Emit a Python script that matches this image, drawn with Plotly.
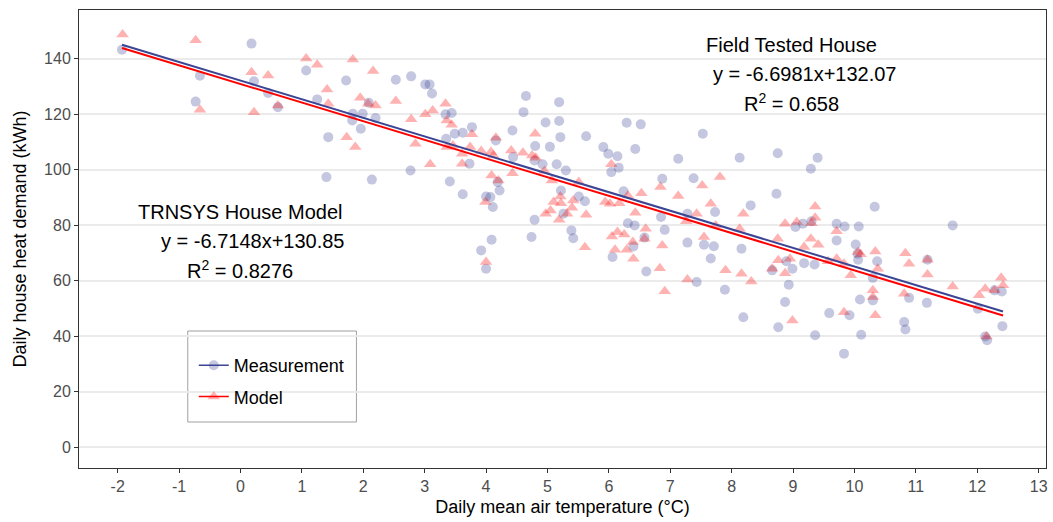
import plotly.graph_objects as go

# Measurement (field tested house)
meas_x = [-1.93, -0.73, -0.66, 0.18, 0.22, 0.45, 0.61, 1.07, 1.25, 1.40, 1.43, 1.72, 1.82, 1.83, 1.96, 1.99,
          2.09, 2.14, 2.20, 2.53, 2.77, 2.78, 3.01, 3.08, 3.12, 3.34, 3.35, 3.41, 3.44, 3.49, 3.62, 3.62,
          3.73, 3.77, 3.92, 4.00, 4.00, 4.07, 4.09, 4.11, 4.16, 4.19, 4.22, 4.43, 4.44, 4.61, 4.65, 4.74,
          4.79, 4.79, 4.80, 4.92, 4.97, 5.04, 5.15, 5.19, 5.19, 5.21, 5.22, 5.26, 5.30, 5.39, 5.42, 5.51,
          5.61, 5.63, 5.91, 5.99, 6.04, 6.06, 6.14, 6.16, 6.24, 6.29, 6.31, 6.40, 6.42, 6.43, 6.52, 6.58,
          6.61, 6.85, 6.87, 6.91, 7.13, 7.28, 7.28, 7.38, 7.43, 7.53, 7.55, 7.66, 7.71, 7.73, 7.89, 8.13,
          8.16, 8.19, 8.31, 8.66, 8.73, 8.75, 8.76, 8.87, 8.89, 8.93, 8.99, 9.04, 9.16, 9.18, 9.29, 9.30,
          9.35, 9.36, 9.40, 9.59, 9.71, 9.71, 9.83, 9.84, 9.92, 10.02, 10.05, 10.06, 10.07, 10.09, 10.11,
          10.30, 10.30, 10.33, 10.37, 10.81, 10.83, 10.89, 11.18, 11.19, 11.60, 12.01, 12.13, 12.16, 12.28,
          12.40, 12.41]
meas_y = [143.2, 124.5, 133.8, 145.4, 131.8, 127.6, 122.5, 135.7, 125.3, 97.3, 111.7, 132.1, 117.7, 120.1, 114.7, 120.1,
          124.1, 96.4, 118.6, 132.4, 99.7, 133.6, 130.7, 130.7, 127.4, 119.9, 111.1, 95.7, 120.4, 112.9, 113.3, 91.1,
          102.1, 115.3, 70.9, 90.3, 64.3, 90.1, 74.7, 86.5, 110.5, 95.5, 92.5, 114.1, 104.5, 120.7, 126.5, 75.7,
          103.3, 81.9, 108.5, 101.9, 117.0, 108.2, 101.9, 124.3, 117.5, 111.7, 92.5, 84.1, 99.7, 78.1, 75.3, 90.3,
          88.6, 112.0, 108.1, 105.7, 99.1, 68.5, 104.8, 100.7, 92.2, 116.9, 80.7, 72.3, 79.9, 107.4, 116.3, 75.5,
          63.3, 82.9, 96.7, 78.3, 103.9, 84.1, 73.7, 96.9, 59.5, 112.9, 72.9, 68.0, 72.4, 84.7, 56.7, 104.3,
          71.5, 46.8, 87.1, 63.7, 91.3, 105.9, 43.2, 52.3, 67.0, 58.5, 64.3, 79.3, 80.5, 66.3, 100.3, 81.4,
          65.8, 40.3, 104.3, 48.3, 80.5, 74.5, 33.7, 79.5, 47.5, 73.0, 69.7, 67.5, 79.5, 53.2, 40.5,
          61.0, 52.9, 86.6, 67.0, 45.1, 42.4, 53.8, 52.0, 67.5, 79.9, 49.9, 39.9, 38.5, 56.5,
          56.1, 43.6]

# Model (TRNSYS house model)
model_x = [-1.92, -0.73, -0.66, 0.18, 0.22, 0.45, 0.61, 1.07, 1.25, 1.41, 1.43, 1.73, 1.83, 1.87, 1.95, 2.08,
           2.16, 2.20, 2.53, 2.78, 2.85, 3.01, 3.09, 3.13, 3.34, 3.36, 3.36, 3.44, 3.46, 3.61, 3.61, 3.74,
           3.77, 3.92, 3.99, 4.00, 4.08, 4.09, 4.12, 4.16, 4.20, 4.41, 4.43, 4.60, 4.75, 4.80, 4.81, 4.95,
           4.97, 5.05, 5.07, 5.10, 5.19, 5.21, 5.22, 5.32, 5.40, 5.42, 5.51, 5.61, 5.63, 5.94, 6.02, 6.04,
           6.05, 6.10, 6.14, 6.17, 6.25, 6.29, 6.31, 6.39, 6.40, 6.43, 6.53, 6.58, 6.60, 6.83, 6.84, 6.87,
           6.91, 7.13, 7.26, 7.28, 7.43, 7.52, 7.55, 7.66, 7.74, 7.81, 7.90, 8.13, 8.16, 8.19, 8.32, 8.66,
           8.75, 8.76, 8.87, 8.87, 8.95, 8.99, 9.06, 9.18, 9.29, 9.30, 9.36, 9.36, 9.41, 9.57, 9.71, 9.71,
           9.83, 9.83, 9.94, 10.06, 10.10, 10.30, 10.30, 10.34, 10.34, 10.38, 10.81, 10.83, 10.89, 11.19,
           11.19, 11.60, 12.03, 12.13, 12.15, 12.28, 12.39, 12.42]
model_y = [148.7, 146.6, 121.6, 135.1, 120.7, 133.9, 123.1, 140.0, 137.8, 128.9, 123.7, 111.7, 139.7, 108.1, 125.9, 123.7,
           135.5, 123.1, 124.7, 118.1, 109.3, 119.9, 101.9, 121.3, 123.7, 117.7, 108.1, 116.2, 108.7, 105.7, 102.1, 108.1,
           112.7, 106.7, 88.3, 66.7, 106.3, 97.9, 105.1, 111.5, 96.1, 106.9, 98.7, 106.1, 105.1, 112.9, 104.3, 99.5,
           84.1, 85.3, 96.1, 88.3, 81.9, 90.3, 87.9, 84.1, 86.3, 88.9, 95.5, 72.0, 83.7, 88.3, 87.7, 101.9,
           75.9, 71.1, 77.5, 87.9, 76.6, 71.1, 90.7, 73.9, 67.9, 84.5, 91.5, 75.1, 78.7, 64.5, 93.7, 72.7,
           56.2, 90.5, 81.4, 60.4, 84.1, 94.3, 75.7, 87.7, 79.9, 97.3, 63.7, 78.7, 62.5, 84.1, 59.7, 64.3,
           75.1, 67.3, 80.5, 62.7, 67.9, 45.6, 81.1, 72.1, 75.1, 80.7, 86.7, 82.7, 72.9, 67.0, 77.8, 67.9,
           66.1, 48.6, 61.9, 70.3, 69.5, 56.5, 54.1, 70.5, 47.5, 64.3, 55.3, 69.9, 66.1, 67.5,
           62.2, 57.9, 54.7, 57.1, 39.9, 56.5, 61.0, 58.3]

# Regression fits (as annotated on the chart)
meas_fit = (-6.6981, 132.07)
model_fit = (-6.7148, 130.85)
x_ticks = list(range(-2, 14))
y_ticks = list(range(0, 141, 20))

FONT = "Liberation Sans, Arial, sans-serif"
BLUE = "#3B4594"
RED = "#FF0000"
BLUE_PT = "rgba(59,69,148,0.30)"
RED_PT = "rgba(255,0,0,0.30)"

xmin = min(min(meas_x), min(model_x))
xmax = max(max(meas_x), max(model_x))
line_x = [xmin, xmax]

fig = go.Figure()
fig.add_trace(go.Scatter(x=meas_x, y=meas_y, mode="markers", showlegend=False,
                         marker=dict(symbol="circle", size=10, color=BLUE_PT, line=dict(width=0))))
fig.add_trace(go.Scatter(x=model_x, y=model_y, mode="markers", showlegend=False,
                         marker=dict(symbol="triangle-up", size=11, color=RED_PT, line=dict(width=0))))
fig.add_trace(go.Scatter(x=line_x, y=[meas_fit[0] * v + meas_fit[1] for v in line_x], mode="lines",
                         showlegend=False, line=dict(color=BLUE, width=2)))
fig.add_trace(go.Scatter(x=line_x, y=[model_fit[0] * v + model_fit[1] for v in line_x], mode="lines",
                         showlegend=False, line=dict(color=RED, width=2)))
# legend entries
fig.add_trace(go.Scatter(x=[None], y=[None], mode="lines+markers", name="Measurement", legendgroup="a",
                         line=dict(color=BLUE, width=1.5),
                         marker=dict(symbol="circle", size=10, color=BLUE_PT, line=dict(width=0))))
fig.add_trace(go.Scatter(x=[None], y=[None], mode="lines+markers", name="Model", legendgroup="b",
                         line=dict(color=RED, width=1.5),
                         marker=dict(symbol="triangle-up", size=11, color=RED_PT, line=dict(width=0))))

ann = dict(xref="paper", yref="paper", showarrow=False, font=dict(family=FONT, size=20, color="black"))
L, R, T, B = 79, 5, 10, 54
W, H = 1053, 522
pw, ph = W - L - R, H - T - B


def px2paper(px, py):
    return (px - L) / pw, (H - B - py) / ph


texts = [
    ("Field Tested House", 793, 45),
    ("y = -6.6981x+132.07", 805.5, 74),
    ("R<sup>2</sup> = 0.658", 793, 102),
    ("TRNSYS House Model", 241, 212),
    ("y = -6.7148x+130.85", 253, 241),
    ("R<sup>2</sup> = 0.8276", 240.5, 269),
]
for t, x, y in texts:
    xp, yp = px2paper(x, y)
    fig.add_annotation(text=t, x=xp, y=yp, xanchor="center", yanchor="middle", **ann)

# legend box
x0, y0 = px2paper(188, 422)
x1, y1 = px2paper(357, 331)
fig.add_shape(type="rect", xref="paper", yref="paper", x0=x0, y0=y0, x1=x1, y1=y1,
              line=dict(color="#A0A0A0", width=1), fillcolor="white", layer="below")

lx, ly = px2paper(194, 347)
fig.update_layout(
    width=W, height=H,
    margin=dict(l=L, r=R, t=T, b=B),
    paper_bgcolor="white", plot_bgcolor="white",
    font=dict(family=FONT, size=16, color="black"),
    legend=dict(x=lx, y=ly, xanchor="left", yanchor="top", bgcolor="rgba(0,0,0,0)",
                borderwidth=0, font=dict(family=FONT, size=18, color="black"),
                traceorder="grouped", tracegroupgap=5, itemwidth=30),
    xaxis=dict(range=[-2.63, 13.12], tickvals=x_ticks, ticktext=[str(v) for v in x_ticks],
               showgrid=False, zeroline=False, showline=True, mirror=True, linecolor="#333333",
               linewidth=1, ticks="outside", ticklen=4, tickcolor="#333333",
               tickfont=dict(family=FONT, size=16, color="#4D4D4D"),
               title=dict(text="Daily mean air temperature (°C)", font=dict(family=FONT, size=18, color="black"),
                          standoff=6)),
    yaxis=dict(range=[-7.5, 157.5], tickvals=y_ticks, ticktext=[str(v) for v in y_ticks],
               showgrid=True, gridcolor="#EBEBEB", gridwidth=1.5, zeroline=False,
               showline=True, mirror=True, linecolor="#333333", linewidth=1,
               ticks="outside", ticklen=4, tickcolor="#333333",
               tickfont=dict(family=FONT, size=16, color="#4D4D4D"),
               title=dict(text="Daily house heat demand (kWh)", font=dict(family=FONT, size=18, color="black"),
                          standoff=12)),
)

fig.write_html("out.html")
